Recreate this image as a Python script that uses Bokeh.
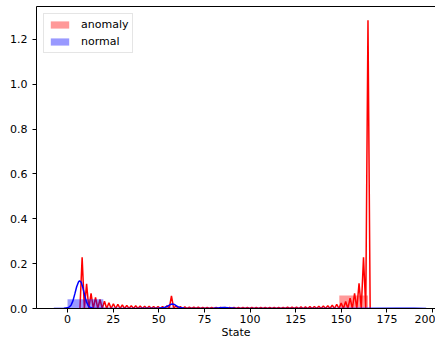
from bokeh.plotting import figure
from bokeh.models import Range1d, Legend, LegendItem, FixedTicker, PrintfTickFormatter, LinearAxis
from bokeh.embed import file_html
from bokeh.resources import INLINE

# ---- data ----
x_ticks = [0, 25, 50, 75, 100, 125, 150, 175, 200]
y_ticks = [0.0, 0.2, 0.4, 0.6, 0.8, 1.0, 1.2]

# anomaly histogram (density)
anomaly_bin_edges = [8.0, 23.7, 39.3, 55.0, 70.6, 86.3, 102.0, 117.6, 133.3, 148.9, 164.6]
anomaly_density = [0.005, 0.002, 0.001, 0.003, 0.001, 0.001, 0.001, 0.001, 0.001, 0.058]

# normal histogram (density)
normal_bin_edges = [0.0, 19.6, 39.2, 58.8, 78.4, 98.0, 117.6, 137.2, 156.8, 176.4, 196.0]
normal_density = [0.041, 0.0005, 0.004, 0.001, 0.002, 0.0005, 0.0005, 0.0005, 0.0005, 0.0005]

# anomaly KDE: spike positions and heights (valleys near zero)
anomaly_peak_x = [8.0, 10.45, 12.89, 15.34, 17.79, 20.24, 22.68, 25.13, 27.58, 30.02,
                  32.47, 34.92, 37.36, 39.81, 42.26, 44.71, 47.15, 49.6, 52.05, 54.49,
                  56.94, 59.39, 61.83, 64.28, 66.73, 69.18, 71.62, 74.07, 76.52, 78.96,
                  81.41, 83.86, 86.3, 88.75, 91.2, 93.65, 96.09, 98.54, 100.99, 103.43,
                  105.88, 108.33, 110.77, 113.22, 115.67, 118.12, 120.56, 123.01, 125.46, 127.9,
                  130.35, 132.8, 135.24, 137.69, 140.14, 142.59, 145.03, 147.48, 149.93, 152.37,
                  154.82, 157.27, 159.71, 162.16, 164.61]
anomaly_peak_y = [0.228, 0.110, 0.068, 0.050, 0.040, 0.032, 0.026, 0.021, 0.018, 0.016,
                  0.014, 0.013, 0.012, 0.011, 0.010, 0.010, 0.009, 0.009, 0.009, 0.012,
                  0.056, 0.012, 0.008, 0.007, 0.006, 0.006, 0.006, 0.005, 0.005, 0.005,
                  0.005, 0.005, 0.005, 0.005, 0.005, 0.005, 0.005, 0.005, 0.005, 0.005,
                  0.005, 0.005, 0.005, 0.005, 0.005, 0.005, 0.006, 0.006, 0.006, 0.007,
                  0.007, 0.008, 0.009, 0.010, 0.011, 0.012, 0.015, 0.018, 0.024, 0.031,
                  0.046, 0.068, 0.112, 0.228, 1.285]
anomaly_valley_y = 0.0
anomaly_kde_start = 6.8
anomaly_kde_end = 165.8

# normal KDE
normal_kde_x = [-7.5, -4.0, -2.0, 0.0, 1.0, 2.0, 3.0, 4.0, 5.0, 6.0, 6.6, 7.5, 8.5, 9.5, 10.5,
                11.5, 12.5, 14.0, 17.0, 25.0, 40.0, 50.0, 53.0, 55.0, 56.0, 57.3, 58.5, 60.0,
                61.5, 64.0, 70.0, 80.0, 83.0, 85.5, 88.0, 92.0, 110.0, 150.0, 180.0, 190.0, 196.5]
normal_kde_y = [0.0, 0.0005, 0.001, 0.003, 0.007, 0.016, 0.035, 0.065, 0.097, 0.118, 0.124,
                0.117, 0.090, 0.055, 0.027, 0.010, 0.004, 0.001, 0.0005, 0.0005, 0.0005, 0.001,
                0.004, 0.011, 0.016, 0.020, 0.018, 0.010, 0.004, 0.001, 0.0005, 0.001, 0.003,
                0.005, 0.003, 0.001, 0.0005, 0.0005, 0.001, 0.001, 0.0]

# ---- build the zigzag polyline for the anomaly KDE ----
ax_line = [anomaly_kde_start]
ay_line = [anomaly_valley_y]
for i, (px, py) in enumerate(zip(anomaly_peak_x, anomaly_peak_y)):
    ax_line.append(px)
    ay_line.append(py)
    if i + 1 < len(anomaly_peak_x):
        ax_line.append((px + anomaly_peak_x[i + 1]) / 2.0)
        ay_line.append(anomaly_valley_y)
ax_line.append(anomaly_kde_end)
ay_line.append(anomaly_valley_y)

FONT = "DejaVu Sans"
FS = "11px"

p = figure(width=435, height=341,
           x_range=Range1d(-17, 201.6), y_range=Range1d(0, 1.3467),
           output_backend="svg", toolbar_location=None,
           min_border_left=36, min_border_right=0,
           min_border_top=6, min_border_bottom=32)

p.xgrid.visible = False
p.ygrid.visible = False
p.outline_line_color = None
p.background_fill_color = "white"
p.border_fill_color = "white"

bottom_axis = p.below[0]
left_axis = p.left[0]

# anomaly first
r_anom_hist = p.quad(left=anomaly_bin_edges[:-1], right=anomaly_bin_edges[1:],
                     bottom=0, top=anomaly_density,
                     fill_color="red", fill_alpha=0.4, line_color=None)
p.line(ax_line, ay_line, line_color="red", line_width=1.5)

# normal
r_norm_hist = p.quad(left=normal_bin_edges[:-1], right=normal_bin_edges[1:],
                     bottom=0, top=normal_density,
                     fill_color="blue", fill_alpha=0.4, line_color=None)
p.line(normal_kde_x, normal_kde_y, line_color="blue", line_width=1.5)

for ax in (bottom_axis, left_axis):
    ax.axis_line_color = "black"
    ax.major_tick_line_color = "black"
    ax.major_tick_out = 4
    ax.major_tick_in = 0
    ax.minor_tick_line_color = None
    ax.major_label_text_font = FONT
    ax.major_label_text_font_size = FS
    ax.major_label_text_color = "black"

bottom_axis.major_label_standoff = 2
left_axis.major_label_standoff = 5

bottom_axis.ticker = FixedTicker(ticks=x_ticks)
left_axis.ticker = FixedTicker(ticks=y_ticks)
left_axis.formatter = PrintfTickFormatter(format="%.1f")

bottom_axis.axis_label = "State"
bottom_axis.axis_label_text_font = FONT
bottom_axis.axis_label_text_font_size = FS
bottom_axis.axis_label_text_font_style = "normal"
bottom_axis.axis_label_text_color = "black"
bottom_axis.axis_label_standoff = 0

# top spine (no ticks / labels)
top_axis = LinearAxis(ticker=FixedTicker(ticks=[]), axis_line_color="black",
                      axis_line_width=1, major_tick_out=0, major_tick_in=0,
                      minor_tick_line_color=None, major_label_text_font_size="0px",
                      major_label_standoff=0)
p.add_layout(top_axis, "above")

legend = Legend(items=[LegendItem(label="anomaly", renderers=[r_anom_hist]),
                       LegendItem(label="normal", renderers=[r_norm_hist])],
                location="top_left")
legend.margin = 7
legend.padding = 4
legend.spacing = 4
legend.glyph_width = 23
legend.glyph_height = 9
legend.label_height = 13
legend.label_standoff = 10
legend.label_text_font = FONT
legend.label_text_font_size = FS
legend.label_text_color = "black"
legend.border_line_color = "#cccccc"
legend.border_line_width = 1
legend.background_fill_color = "white"
legend.background_fill_alpha = 0.8
p.add_layout(legend, "center")

open("out.html", "w").write(file_html(p, INLINE))
